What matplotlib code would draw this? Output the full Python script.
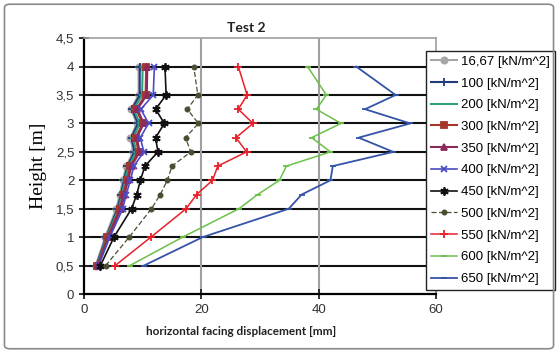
import matplotlib
matplotlib.use('Agg')
import matplotlib.pyplot as plt
from matplotlib.patches import FancyBboxPatch
from matplotlib.ticker import FuncFormatter

heights = [0.5, 1, 1.5, 1.75, 2, 2.25, 2.5, 2.75, 3, 3.25, 3.5, 4]

s1667 = [2.0, 3.6, 5.5, 6.1, 6.6, 7.2, 8.4, 7.9, 9.0, 8.0, 9.3, 9.3]
s100 = [2.1, 3.8, 5.7, 6.3, 6.8, 7.4, 8.6, 8.1, 9.2, 8.2, 9.5, 9.5]
s200 = [2.2, 3.9, 5.9, 6.5, 7.0, 7.6, 8.9, 8.4, 9.5, 8.5, 9.9, 10.0]
s300 = [2.3, 4.0, 6.1, 6.7, 7.3, 7.9, 9.3, 8.8, 10.0, 8.9, 10.5, 10.6]
s350 = [2.4, 4.2, 6.3, 6.9, 7.5, 8.1, 9.5, 9.0, 10.2, 9.1, 10.7, 10.8]
s400 = [2.5, 4.4, 6.6, 7.2, 7.9, 8.5, 10.2, 9.6, 11.0, 9.7, 11.8, 12.0]
s450 = [2.8, 5.1, 8.1, 9.0, 9.6, 10.4, 12.6, 12.2, 13.7, 12.2, 14.0, 13.8]
s500 = [3.7, 7.7, 11.5, 13.0, 14.2, 15.0, 18.2, 17.3, 19.5, 17.6, 19.4, 18.7]
s550 = [5.3, 11.4, 17.4, 19.2, 21.9, 22.8, 27.7, 25.9, 28.8, 26.3, 27.8, 26.3]
s600 = [7.8, 16.8, 26.4, 29.6, 33.3, 34.5, 42.0, 38.8, 43.8, 39.6, 41.3, 38.1]
s650 = [10.2, 20.2, 34.9, 37.1, 42.0, 42.4, 52.7, 46.8, 55.6, 47.9, 53.1, 46.4]

labels = ['16,67 [kN/m^2]', '100 [kN/m^2]', '200 [kN/m^2]', '300 [kN/m^2]',
          '350 [kN/m^2]', '400 [kN/m^2]', '450 [kN/m^2]', '500 [kN/m^2]',
          '550 [kN/m^2]', '600 [kN/m^2]', '650 [kN/m^2]']

fig = plt.figure(figsize=(5.58, 3.53), dpi=100)
ax = fig.add_axes([0.1505, 0.167, 0.631, 0.725])

# style per series: color, marker, markersize, linestyle, linewidth
styles = [
    ('#a6a6a6', 'o', 4.5, '-', 1.5),
    ('#1f3b7a', '+', 6, '-', 1.5),
    ('#2e9e80', '_', 4, '-', 1.5),
    ('#a8352c', 's', 5, '-', 1.5),
    ('#8c2a5c', '^', 5, '-', 1.5),
    ('#4b4bc4', 'x', 5, '-', 1.2),
    ('#111111', (6, 2, 0), 6, '-', 1.2),
    ('#4d4d33', 'o', 3, (0, (4, 2)), 0.9),
    ('#e8202a', '+', 6, '-', 1.1),
    ('#6cc04a', '_', 4, '-', 1.1),
    ('#3554a8', '_', 5, '-', 1.3),
]
series = [s1667, s100, s200, s300, s350, s400, s450, s500, s550, s600, s650]

for data, lab, (c, m, ms, ls, lw) in zip(series, labels, styles):
    ax.plot(data, heights, color=c, marker=m, markersize=ms, linestyle=ls,
            linewidth=lw, markeredgewidth=1.3, label=lab)

ax.set_xlim(0, 60)
ax.set_ylim(0, 4.5)
ax.set_xticks([0, 20, 40, 60])
ax.set_yticks([0, 0.5, 1, 1.5, 2, 2.5, 3, 3.5, 4, 4.5])
ax.yaxis.set_major_formatter(FuncFormatter(lambda v, p: ('%g' % v).replace('.', ',')))

for yv in [0.5, 1, 1.5, 2, 2.5, 3, 3.5, 4]:
    ax.axhline(yv, color='#111111', linewidth=1.5, zorder=0)
for xv in [20, 40]:
    ax.axvline(xv, color='#a0a0a0', linewidth=1.5, zorder=0)

ax.spines['top'].set_color('#a0a0a0')
ax.spines['right'].set_color('#a0a0a0')
ax.spines['top'].set_linewidth(1.2)
ax.spines['right'].set_linewidth(1.2)
ax.spines['left'].set_linewidth(1.6)
ax.spines['bottom'].set_linewidth(1.6)
ax.tick_params(direction='inout', length=7, width=1.3, labelsize=9.5, colors='#222222')
for t in ax.get_xticklabels() + ax.get_yticklabels():
    t.set_family('Liberation Sans')
    t.set_color('#333333')

ax.set_ylabel('Height [m]', family='Liberation Serif', fontsize=14, labelpad=6)
fig.text(0.432, 0.062, 'horizontal facing displacement [mm]', ha='center', va='center',
         family='Lato', weight='bold', fontsize=8.5, color='#222222')
fig.text(0.441, 0.92, 'Test 2', ha='center', va='center', family='Lato',
         weight='bold', fontsize=10, color='#222222')

leg = ax.legend(loc='upper left', bbox_to_anchor=(0.972, 0.95), fancybox=False,
                framealpha=1, edgecolor='#222222', labelspacing=0.72,
                handlelength=2.0, handletextpad=0.3, borderpad=0.35, borderaxespad=0,
                prop={'family': 'Liberation Sans', 'size': 9.5})
leg.get_frame().set_linewidth(1.0)

border = FancyBboxPatch((0.008, 0.012), 0.984, 0.976, boxstyle='round,pad=0,rounding_size=0.01',
                        transform=fig.transFigure, fill=False, edgecolor='#8a8a8a',
                        linewidth=1.2)
fig.patches.append(border)

plt.savefig('out.png', dpi=100)
